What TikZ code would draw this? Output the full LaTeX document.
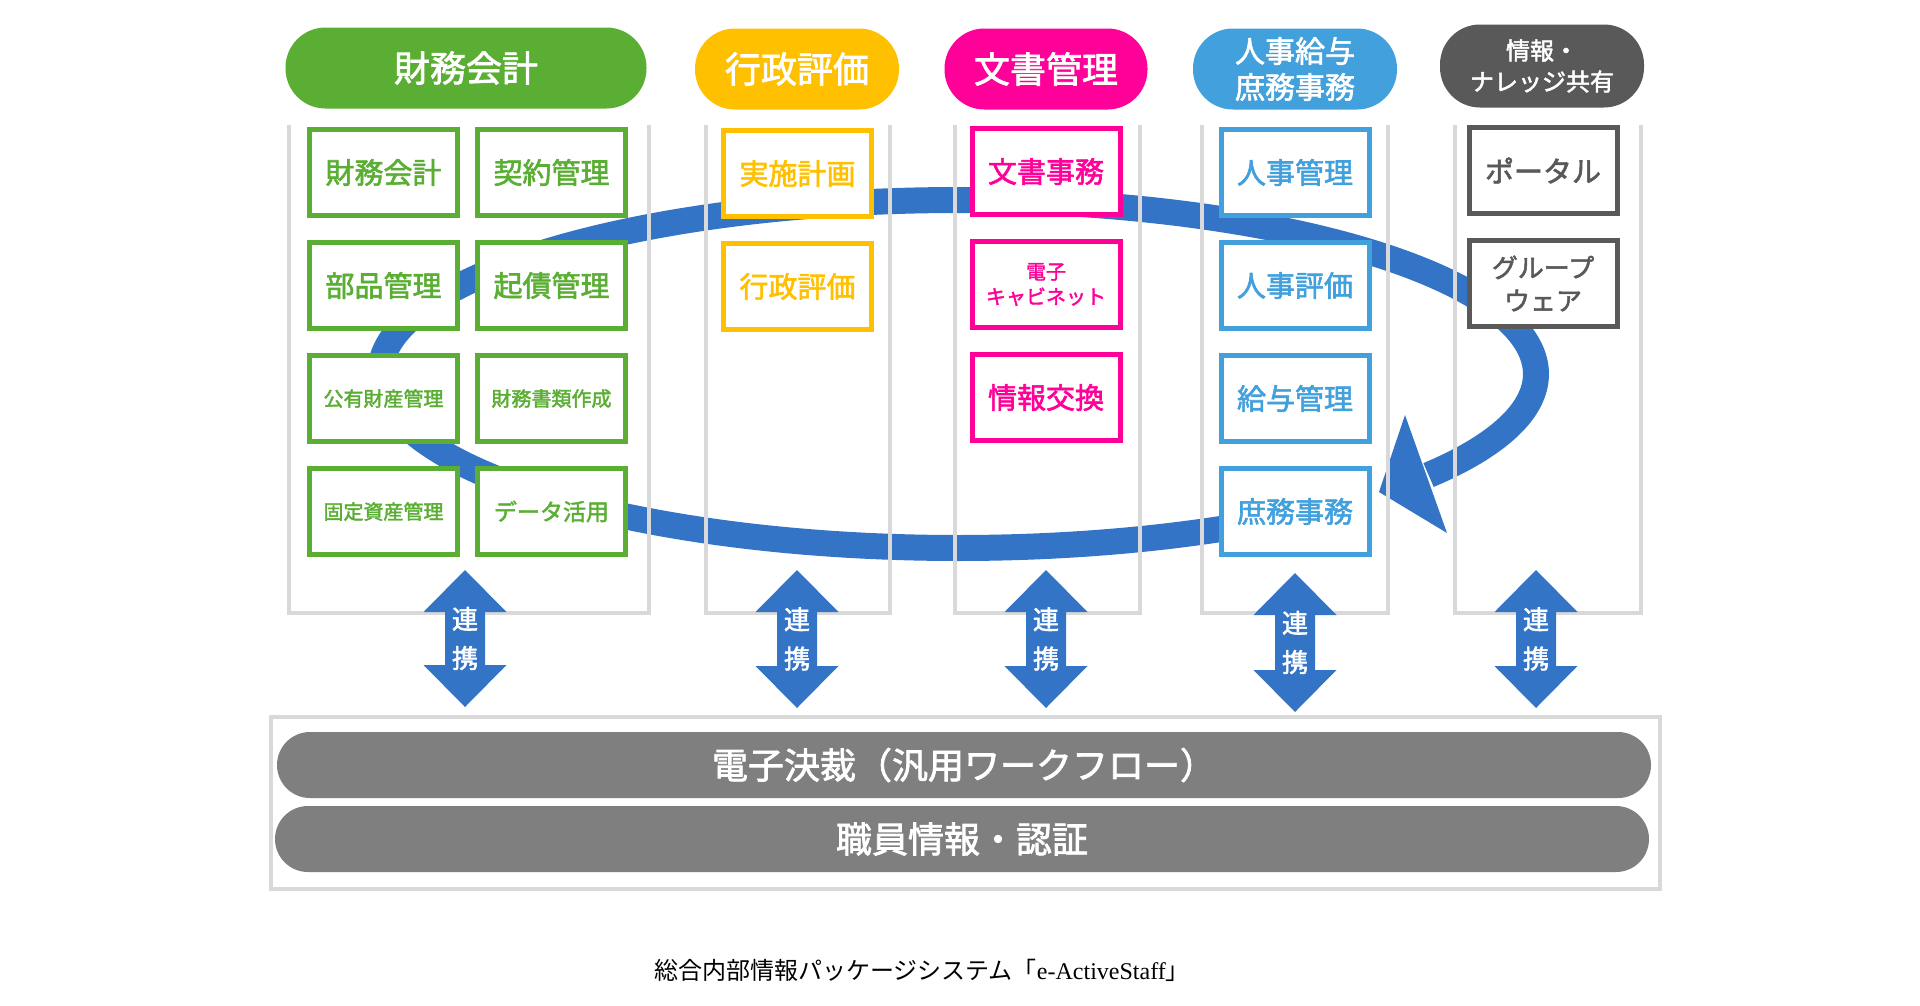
\documentclass[tikz,border=0pt]{standalone}
\usepackage{fontspec}
\setmainfont{Noto Sans CJK JP}[BoldFont={Noto Sans CJK JP}, BoldFeatures={FakeBold=2}]
\newfontfamily\capfont{Liberation Serif}
\usepackage{xcolor}
\usetikzlibrary{positioning}

\definecolor{acgreen}{HTML}{5AAE33}
\definecolor{acorange}{HTML}{FFC000}
\definecolor{acpink}{HTML}{FF0099}
\definecolor{acblue}{HTML}{42A0DC}
\definecolor{acdark}{HTML}{595959}
\definecolor{flowblue}{HTML}{3474C6}
\definecolor{pillgray}{HTML}{7F7F7F}
\definecolor{frameline}{HTML}{D9D9D9}

\begin{document}
\begin{tikzpicture}[
  x=1pt, y=-1pt,
  hdpill/.style={
     rectangle, rounded corners=40pt,
     fill=#1, text=white,
     minimum height=81pt, align=center,
     font=\fontsize{36}{40}\selectfont\bfseries},
  itembox/.style={
     rectangle, draw=#1, line width=5pt,
     fill=white, text=#1,
     minimum width=148pt, minimum height=86pt, align=center,
     font=\fontsize{29}{33}\selectfont\bfseries},
  smalltext/.style={font=\fontsize{20}{25}\selectfont\bfseries},
  colline/.style={draw=frameline, line width=4pt},
  linktext/.style={text=white, align=center,
     font=\fontsize{26}{39}\selectfont\bfseries},
  basepill/.style={
     rectangle, rounded corners=33pt,
     fill=pillgray, text=white,
     minimum width=1374pt, minimum height=66pt,
     font=\fontsize{36}{40}\selectfont\bfseries},
  node distance=22pt and 15pt]
\useasboundingbox (0,0) rectangle (1920,1005);
% loop behind the columns
\draw[flowblue, line width=26pt]
  plot[domain=46:395.5, samples=180, smooth] ({958+578*cos(\x)},{374+174*sin(\x)});
\coordinate (tip) at (1379,492);
\fill[flowblue] (tip) -- (1405,415) -- (1447,533) -- cycle;
% column frames
\foreach \l/\r in {289/649, 706/890, 955/1140, 1202/1388, 1455/1641}
  \draw[colline] (\l,125) -- (\l,613) -- (\r,613) -- (\r,125);
% headers
\node[hdpill=acgreen, minimum width=361pt] (hFin) at (466,68) {財務会計};
\node[hdpill=acorange, minimum width=204pt] (hEval) at (797,69) {行政評価};
\node[hdpill=acpink, minimum width=203pt] (hDoc) at (1046,69) {文書管理};
\node[hdpill=acblue, minimum width=204pt,
      font=\fontsize{30}{36}\selectfont\bfseries] (hHR) at (1295,69) {人事給与\\庶務事務};
\node[hdpill=acdark, minimum width=204pt, minimum height=83pt,
      font=\fontsize{24}{31}\selectfont\bfseries] (hInfo) at (1542,66) {情報・\\ナレッジ共有};
% finance
\node[itembox=acgreen] (fin1) at (383.5,172.5) {財務会計};
\node[itembox=acgreen, right=of fin1] (fin2) {契約管理};
\node[itembox=acgreen, below=of fin1] (fin3) {部品管理};
\node[itembox=acgreen, right=of fin3] (fin4) {起債管理};
\node[itembox=acgreen, below=of fin3, smalltext] (fin5) {公有財産管理};
\node[itembox=acgreen, right=of fin5, smalltext] (fin6) {財務書類作成};
\node[itembox=acgreen, below=of fin5, smalltext] (fin7) {固定資産管理};
\node[itembox=acgreen, right=of fin7,
      font=\fontsize{23}{27}\selectfont\bfseries] (fin8) {データ活用};
% evaluation
\node[itembox=acorange] (eval1) at (797.5,173.5) {実施計画};
\node[itembox=acorange, below=of eval1] (eval2) {行政評価};
% documents
\node[itembox=acpink] (doc1) at (1046,171.5) {文書事務};
\node[itembox=acpink, below=of doc1, smalltext] (doc2) {電子\\キャビネット};
\node[itembox=acpink, below=of doc2] (doc3) {情報交換};
% personnel
\node[itembox=acblue] (hr1) at (1295,172.5) {人事管理};
\node[itembox=acblue, below=of hr1] (hr2) {人事評価};
\node[itembox=acblue, below=of hr2] (hr3) {給与管理};
\node[itembox=acblue, below=of hr3] (hr4) {庶務事務};
% information sharing
\node[itembox=acdark] (info1) at (1543,170.5) {ポータル};
\node[itembox=acdark, below=of info1,
      font=\fontsize{26}{33}\selectfont\bfseries] (info2) {グループ\\ウェア};
% link arrows
\foreach \n/\cx/\ty/\by in {1/465/570/707, 2/797/570/708, 3/1046/570/708,
                            4/1295/573/712, 5/1536/570/708} {
  \fill[flowblue] (\cx,\ty) -- ++(41.5,42) -- ++(-21.5,0) -- (\cx+20,\by-42)
    -- ++(21.5,0) -- (\cx,\by) -- ++(-41.5,-42) -- ++(21.5,0)
    -- (\cx-20,\ty+42) -- ++(-21.5,0) -- cycle;
  \node[linktext] (link\n) at (\cx,{(\ty+\by)/2}) {連\\携};
}
% common base
\draw[colline, fill=white] (271,717) rectangle (1660,889);
\node[basepill] (flow) at (964,765) {電子決裁（汎用ワークフロー）};
\node[basepill] (auth) at (962,839) {職員情報・認証};
% caption
\node[font=\fontsize{24}{28}\selectfont] (cap) at (922,970)
  {総合内部情報パッケージシステム「{\capfont e-ActiveStaff}」};
\end{tikzpicture}
\end{document}
